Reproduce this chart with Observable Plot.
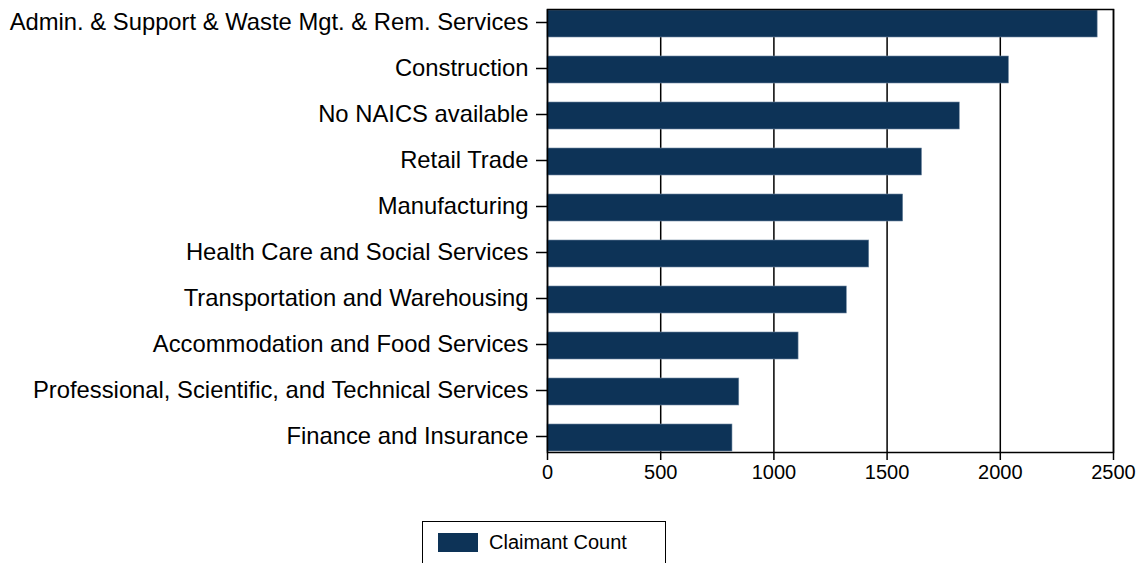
<!DOCTYPE html>
<html>
<head>
<meta charset="utf-8">
<script src="https://cdn.jsdelivr.net/npm/d3@7"></script>
<script src="https://cdn.jsdelivr.net/npm/@observablehq/plot@0.6"></script>
<style>
  html, body { margin: 0; padding: 0; background: #fff; overflow: hidden; }
  body { width: 1143px; height: 563px; font-family: "Liberation Sans", Arial, sans-serif; }
  #legend { position: absolute; left: 422px; top: 521px; width: 244px; height: 60px;
    border: 1.5px solid #000; box-sizing: border-box; }
  #legend .sw { position: absolute; left: 15px; top: 11px; width: 40px; height: 19px; background: #0d3357; }
  #legend .lb { position: absolute; left: 66px; top: 8px; font-size: 20px; line-height: 24px; color: #000; }
</style>
</head>
<body>
<div id="chart"></div>
<div id="legend"><div class="sw"></div><div class="lb">Claimant Count</div></div>
<script>
const categories = [
  "Admin. & Support & Waste Mgt. & Rem. Services",
  "Construction",
  "No NAICS available",
  "Retail Trade",
  "Manufacturing",
  "Health Care and Social Services",
  "Transportation and Warehousing",
  "Accommodation and Food Services",
  "Professional, Scientific, and Technical Services",
  "Finance and Insurance"
];
const claimantCount = [2430, 2038, 1821, 1654, 1571, 1421, 1322, 1109, 847, 817];
const xTicks = [0, 500, 1000, 1500, 2000, 2500];
const seriesName = "Claimant Count";

const data = categories.map((c, i) => ({category: c, count: claimantCount[i], series: seriesName}));

const chart = Plot.plot({
  width: 1143,
  height: 500,
  marginLeft: 547,
  marginRight: 30,
  marginTop: 9,
  marginBottom: 48,
  style: {fontFamily: "'Liberation Sans', Arial, sans-serif", color: "#000", background: "#fff"},
  x: {domain: [0, 2500], ticks: xTicks},
  y: {domain: categories, paddingInner: 0.42, paddingOuter: 0.02},
  marks: [
    Plot.gridX(xTicks, {stroke: "#000", strokeOpacity: 1, strokeWidth: 1.5}),
    Plot.barX(data, {x: "count", y: "category", fill: "#0d3357", stroke: "#6f88a0", strokeWidth: 0.6}),
    Plot.frame({stroke: "#000", strokeWidth: 1.5}),
    Plot.axisY({label: null, fontSize: 23.8, tickSize: 11, tickPadding: 8, strokeWidth: 1.5, dy: -1.5}),
    Plot.axisX({ticks: xTicks, tickFormat: d => String(d), label: null, fontSize: 20, tickSize: 8, tickPadding: 4, strokeWidth: 1.5})
  ]
});
document.getElementById("chart").appendChild(chart);
</script>
</body>
</html>
